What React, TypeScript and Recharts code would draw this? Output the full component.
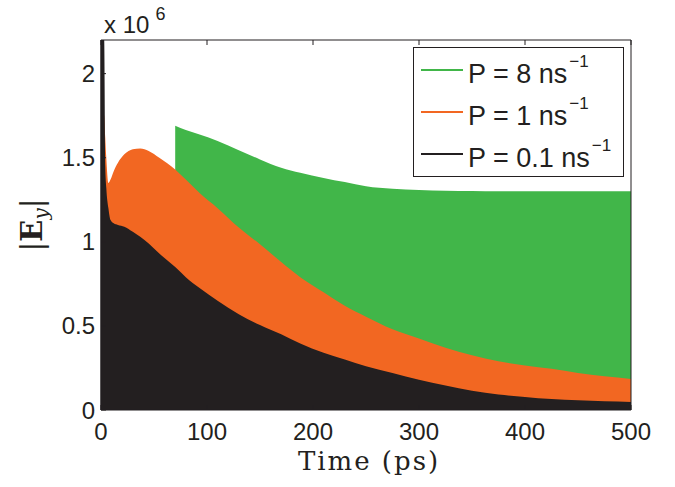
import React from "react";
import { ComposedChart, Area, XAxis, YAxis, Legend, Label } from "recharts";

// time axis in ps, field values in units of 1e6
const times = [0, 3, 4, 5, 7, 9, 12, 16, 22, 30, 37, 45, 55, 70, 80, 93, 110, 130, 150, 170, 188, 210, 230, 250, 275, 300, 325, 350, 375, 400, 425, 450, 475, 500];
const pHigh = [null, null, null, null, null, null, null, null, null, null, null, null, null, 1.69, 1.665, 1.638, 1.6, 1.545, 1.49, 1.44, 1.41, 1.38, 1.355, 1.33, 1.315, 1.308, 1.304, 1.302, 1.3, 1.3, 1.3, 1.3, 1.3, 1.3];
const pMid = [1.8, 1.75, 1.62, 1.5, 1.35, 1.37, 1.42, 1.47, 1.52, 1.55, 1.555, 1.54, 1.5, 1.43, 1.37, 1.29, 1.2, 1.085, 0.985, 0.88, 0.79, 0.7, 0.62, 0.555, 0.48, 0.425, 0.37, 0.325, 0.29, 0.265, 0.245, 0.22, 0.2, 0.185];
const pLow = [2.2, 2.2, 1.45, 1.32, 1.2, 1.13, 1.11, 1.1, 1.09, 1.06, 1.03, 0.99, 0.93, 0.85, 0.79, 0.725, 0.65, 0.57, 0.505, 0.45, 0.395, 0.34, 0.3, 0.26, 0.22, 0.18, 0.145, 0.115, 0.092, 0.078, 0.065, 0.058, 0.052, 0.048];

const seriesNames = ["P = 8 ns", "P = 1 ns", "P = 0.1 ns"];
const xTicks = [0, 100, 200, 300, 400, 500];
const yTicks = [0, 0.5, 1, 1.5, 2];

const data = times.map((t, i) => ({ t, high: pHigh[i], mid: pMid[i], low: pLow[i] }));

const INK = "#231f20";
const SANS = "'Liberation Sans', Arial, sans-serif";
const SERIF = "'DejaVu Serif', serif";

const BottomTick = (props: any) => {
  const { x, y, payload } = props;
  return (
    <g>
      <line x1={x} y1={y} x2={x} y2={y - 5} stroke={INK} />
      <text x={x} y={y + 30} textAnchor="middle" fontSize={24} fontFamily={SANS} fill={INK}>
        {payload.value}
      </text>
    </g>
  );
};

const LeftTick = (props: any) => {
  const { x, y, payload } = props;
  return (
    <g>
      <line x1={x} y1={y} x2={x + 5} y2={y} stroke={INK} />
      <text x={x - 6} y={y + 8.5} textAnchor="end" fontSize={24} fontFamily={SANS} fill={INK}>
        {payload.value}
      </text>
    </g>
  );
};

const TopTick = (props: any) => {
  const { x, y } = props;
  return <line x1={x} y1={y} x2={x} y2={y + 5} stroke={INK} />;
};

const RightTick = (props: any) => {
  const { x, y } = props;
  return <line x1={x} y1={y} x2={x - 5} y2={y} stroke={INK} />;
};

const renderLegend = (props: any) => {
  const payload = [...(props.payload || [])].sort(
    (a: any, b: any) => seriesNames.indexOf(a.value) - seriesNames.indexOf(b.value)
  );
  return (
    <svg width={211} height={130} style={{ display: "block" }}>
      <rect x={0.5} y={0.5} width={210} height={129} fill="#fff" stroke={INK} strokeWidth={1} />
      {payload.map((entry: any, i: number) => (
        <g key={i}>
          <line x1={8} x2={50} y1={23 + i * 42} y2={23 + i * 42} stroke={entry.color} strokeWidth={2} />
          <text x={55} y={36 + i * 42} fontSize={27} fontFamily={SANS} fill={INK}>
            {entry.value}
            <tspan fontSize={17} dy={-16} dx={2}>−1</tspan>
          </text>
        </g>
      ))}
    </svg>
  );
};

const App = () => {
  return (
    <div style={{ position: "absolute", left: 0, top: 0 }}>
      <ComposedChart width={675} height={487} data={data} margin={{ top: 30, right: 34, bottom: 47, left: 61 }}>
        <XAxis
          dataKey="t"
          type="number"
          domain={[0, 500]}
          ticks={xTicks}
          height={30}
          tickSize={0}
          tickMargin={0}
          tick={<BottomTick />}
          axisLine={{ stroke: INK }}
          tickLine={false}
        >
          <Label
            content={() => (
              <text
                x={369}
                y={470}
                textAnchor="middle"
                fontSize={26}
                letterSpacing={2}
                fontFamily={SERIF}
                fill={INK}
              >
                Time (ps)
              </text>
            )}
          />
        </XAxis>
        <XAxis
          xAxisId="top"
          orientation="top"
          dataKey="t"
          type="number"
          domain={[0, 500]}
          ticks={xTicks}
          height={10}
          tickSize={0}
          tickMargin={0}
          tick={<TopTick />}
          axisLine={{ stroke: INK }}
          tickLine={false}
        >
          <Label
            content={() => (
              <text x={104} y={33} fontSize={24} fontFamily={SANS} fill={INK}>
                x 10
                <tspan fontSize={18} dy={-13} dx={6}>6</tspan>
              </text>
            )}
          />
        </XAxis>
        <YAxis
          type="number"
          domain={[0, 2.2]}
          ticks={yTicks}
          width={40}
          tickSize={0}
          tickMargin={0}
          tick={<LeftTick />}
          axisLine={{ stroke: INK, strokeWidth: 1.5 }}
          tickLine={false}
        >
          <Label
            content={() => (
              <text
                x={42}
                y={225}
                textAnchor="middle"
                fontSize={29}
                fontFamily={SERIF}
                fill={INK}
                transform="rotate(-90 42 225)"
              >
                |<tspan fontWeight="bold">E</tspan>
                <tspan fontStyle="italic" fontSize={20} dy={6}>y</tspan>
                <tspan dy={-6}>|</tspan>
              </text>
            )}
          />
        </YAxis>
        <YAxis
          yAxisId="right"
          orientation="right"
          type="number"
          domain={[0, 2.2]}
          ticks={yTicks}
          width={10}
          tickSize={0}
          tickMargin={0}
          tick={<RightTick />}
          axisLine={{ stroke: INK }}
          tickLine={false}
        />
        <Legend
          layout="vertical"
          align="center"
          verticalAlign="middle"
          content={renderLegend}
          wrapperStyle={{ left: 413, top: 47, width: 211, height: 130 }}
        />
        <Area
          type="monotone"
          dataKey="high"
          name={seriesNames[0]}
          stroke="#41b649"
          strokeWidth={0}
          fill="#41b649"
          fillOpacity={1}
          baseValue={0}
          isAnimationActive={false}
        />
        <Area
          type="monotone"
          dataKey="mid"
          name={seriesNames[1]}
          stroke="#f26722"
          strokeWidth={0}
          fill="#f26722"
          fillOpacity={1}
          baseValue={0}
          isAnimationActive={false}
        />
        <Area
          type="monotone"
          dataKey="low"
          name={seriesNames[2]}
          stroke={INK}
          strokeWidth={0}
          fill={INK}
          fillOpacity={1}
          baseValue={0}
          isAnimationActive={false}
        />
      </ComposedChart>
    </div>
  );
};

export default App;
